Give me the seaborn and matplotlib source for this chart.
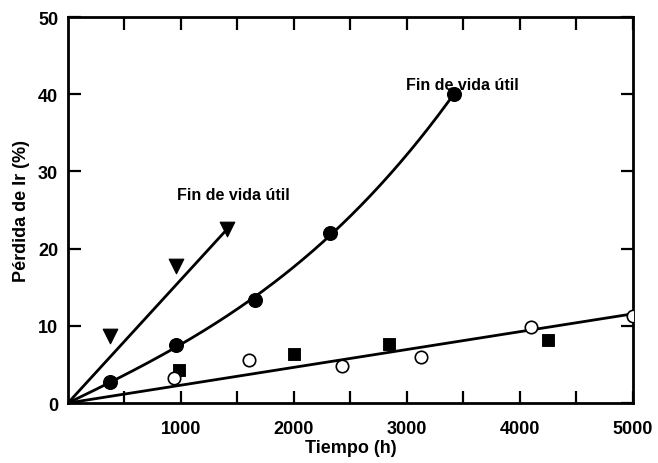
import seaborn as sns
import matplotlib.pyplot as plt
import pandas as pd
import numpy as np

# data (tiempo in h, perdida in %)
tri_t = [372, 956, 1407]
tri_p = [8.7, 17.8, 22.5]
circ_t = [372, 956, 1655, 2320, 3416]
circ_p = [2.7, 7.5, 13.3, 22.0, 40.0]
sq_t = [982, 2000, 2841, 4248]
sq_p = [4.3, 6.4, 7.6, 8.2]
open_t = [938, 1602, 2425, 3124, 4097, 5000]
open_p = [3.2, 5.6, 4.8, 6.0, 9.8, 11.3]

x_ticks = [500, 1000, 1500, 2000, 2500, 3000, 3500, 4000, 4500, 5000]
y_ticks = [0, 10, 20, 30, 40, 50]
label_text = 'Fin de vida útil'


def fit_origin(t, p, deg, t_end):
    # polynomial fit forced through (0, 0)
    t = np.asarray(t, float)
    A = np.column_stack([t ** k for k in range(1, deg + 1)])
    coef = np.linalg.lstsq(A, np.asarray(p, float), rcond=None)[0]
    grid = np.linspace(0, t_end, 200)
    vals = sum(c * grid ** (k + 1) for k, c in enumerate(coef))
    return pd.DataFrame({'t': grid, 'p': vals})


sns.set_style('ticks')
plt.rcParams['font.family'] = ['Liberation Sans', 'DejaVu Sans']
plt.rcParams['text.color'] = 'black'

fig = plt.figure(figsize=(6.58, 4.64), dpi=100)
ax = fig.add_axes([0.1033, 0.1293, 0.8587, 0.8319])

tri_fit = pd.DataFrame({'t': [0, tri_t[-1]], 'p': [0, tri_p[-1]]})
circ_fit = fit_origin(circ_t, circ_p, 3, circ_t[-1])
low_fit = fit_origin(sq_t + open_t, sq_p + open_p, 1, 5000)

for df in [tri_fit, circ_fit, low_fit]:
    sns.lineplot(data=df, x='t', y='p', ax=ax, color='black', lw=2, sort=False)

sns.scatterplot(x=tri_t, y=tri_p, ax=ax, marker='v', s=110, color='black', edgecolor='black', zorder=3)
sns.scatterplot(x=circ_t, y=circ_p, ax=ax, marker='o', s=100, color='black', edgecolor='black', zorder=3)
sns.scatterplot(x=sq_t, y=sq_p, ax=ax, marker='s', s=65, color='black', edgecolor='black', zorder=3)
sns.scatterplot(x=open_t, y=open_p, ax=ax, marker='o', s=80, facecolor='white', edgecolor='black',
                linewidth=1.2, zorder=3)

ax.text(1460, 27.0, label_text, fontsize=11.5, ha='center', va='center', fontweight='bold')
ax.text(3490, 41.2, label_text, fontsize=11.5, ha='center', va='center', fontweight='bold')

ax.set_xlim(0, 5000)
ax.set_ylim(0, 50)
ax.set_xticks(x_ticks)
ax.set_xticklabels([str(v) if v % 1000 == 0 else '' for v in x_ticks])
ax.set_yticks(y_ticks)
ax.tick_params(direction='in', length=9, width=1.6, top=True, right=True, labelsize=13,
               labelcolor='black', color='black')
ax.tick_params(axis='x', pad=12)
ax.tick_params(axis='y', pad=7)
for lab in ax.get_xticklabels() + ax.get_yticklabels():
    lab.set_fontweight('bold')
for s in ax.spines.values():
    s.set_linewidth(2)
    s.set_color('black')
    s.set_visible(True)

ax.set_xlabel('Tiempo (h)', fontsize=13, fontweight='bold', labelpad=2, color='black')
ax.set_ylabel('Pérdida de Ir (%)', fontsize=13, fontweight='bold', labelpad=6, color='black')

fig.savefig('out.png', dpi=100)
